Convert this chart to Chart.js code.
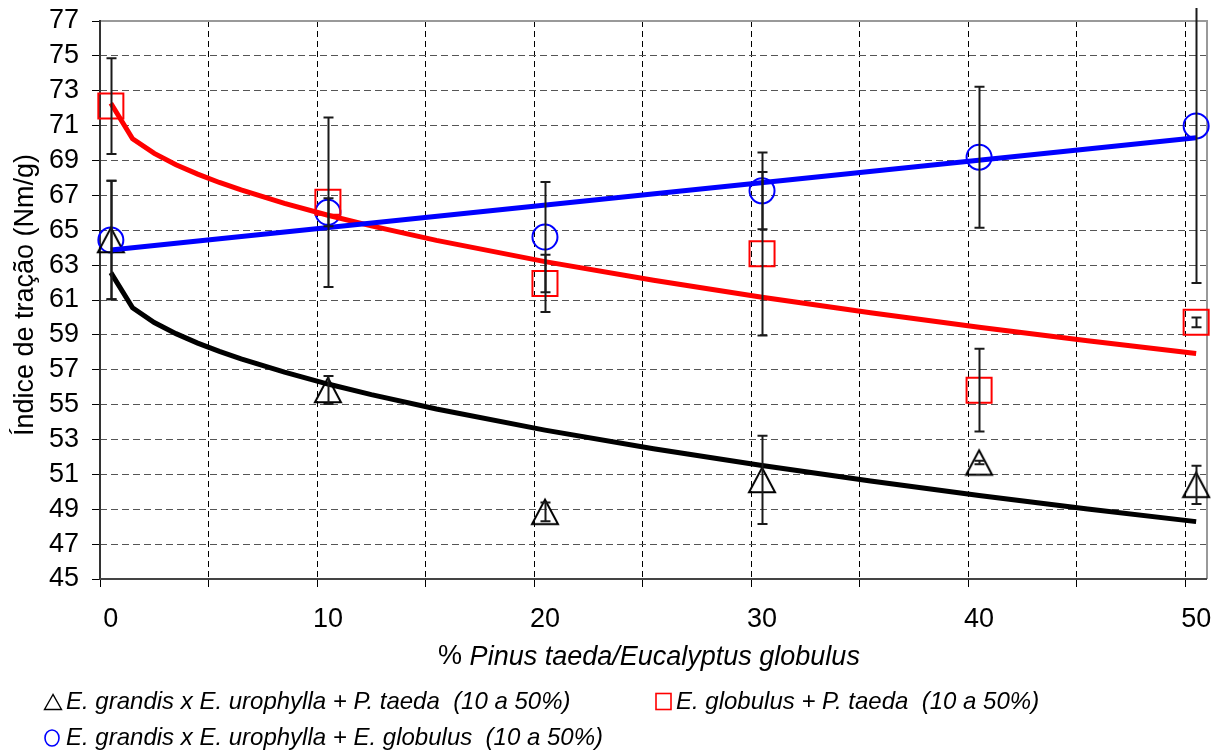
<!DOCTYPE html>
<html>
<head>
<meta charset="utf-8">
<script src="https://cdn.jsdelivr.net/npm/chart.js@4.4.1/dist/chart.umd.min.js"></script>
<style>
  body { margin: 0; background: #fff; }
  #wrap { position: relative; width: 1220px; height: 751px; font-family: "Liberation Sans", Arial, sans-serif; }
  #c { position: absolute; left: 0; top: 0; }
  .leg { position: absolute; font-style: italic; font-size: 24px; line-height: 24px; color: #000; white-space: pre; }
  .leg svg { position: absolute; }
</style>
</head>
<body>
<div id="wrap">
  <canvas id="c" width="1220" height="751"></canvas>
  <div class="leg" style="left:43px;top:689px;">
    <svg width="20" height="18" style="left:0;top:4px"><polygon points="10,1.5 1.5,16.5 18.5,16.5" fill="none" stroke="#000" stroke-width="1.4"/></svg><span style="position:absolute;left:23px;top:0">E. grandis x E. urophylla + P. taeda  (10 a 50%)</span>
  </div>
  <div class="leg" style="left:655px;top:689px;">
    <svg width="18" height="20" style="left:0;top:3px"><rect x="1" y="1.5" width="15" height="16" fill="none" stroke="#ff0000" stroke-width="1.6"/></svg><span style="position:absolute;left:21px;top:0">E. globulus + P. taeda  (10 a 50%)</span>
  </div>
  <div class="leg" style="left:43px;top:725px;">
    <svg width="20" height="20" style="left:0;top:3px"><ellipse cx="9" cy="10" rx="7" ry="8" fill="none" stroke="#0000ff" stroke-width="1.6"/></svg><span style="position:absolute;left:23px;top:0">E. grandis x E. urophylla + E. globulus  (10 a 50%)</span>
  </div>
</div>
<script>
// % of Pinus taeda / Eucalyptus globulus in the blend
const pctBlend = [0, 10, 20, 30, 40, 50];

// Tensile index (Nm/g): means and standard deviations
const grandisTaeda      = [64.44, 55.84, 48.85, 50.68, 51.68, 50.40];
const grandisTaedaSd    = [3.40, 0.80, 0.54, 2.53, 0.10, 1.10];
const globulusTaeda     = [72.12, 66.60, 61.95, 63.65, 55.83, 59.72];
const globulusTaedaSd   = [2.75, 4.86, 1.64, 4.69, 2.37, 0.28];
const grandisGlobulus   = [64.44, 66.03, 64.61, 67.26, 69.19, 70.98];
const grandisGlobulusSd = [3.40, 0.80, 3.16, 2.20, 4.04, 9.00];

// Trend lines
const trendX = [0, 1, 2, 3, 4, 5, 6, 8, 10, 12, 15, 20, 25, 30, 35, 40, 45, 50];
const trendGrandisTaeda = [62.57, 60.55, 59.71, 59.07, 58.53, 58.05, 57.62, 56.86, 56.18, 55.57, 54.75, 53.54, 52.47, 51.51, 50.62, 49.79, 49.02, 48.29];
const trendGlobulusTaeda = [72.28, 70.25, 69.41, 68.76, 68.22, 67.74, 67.31, 66.54, 65.86, 65.25, 64.42, 63.20, 62.13, 61.16, 60.27, 59.44, 58.66, 57.93];
const trendLinearX = [0, 50];
const trendGrandisGlobulus = [63.87, 70.31];

// Axis ticks
const xLabels = [0, 10, 20, 30, 40, 50];
const yTicks = [45, 47, 49, 51, 53, 55, 57, 59, 61, 63, 65, 67, 69, 71, 73, 75, 77];

const FONT = '"Liberation Sans", Arial, sans-serif';
const pts = (xs, ys) => xs.map((x, i) => ({ x: x, y: ys[i] }));

// open triangle marker, centred in its box
function triangleMarker() {
  const c = document.createElement('canvas');
  c.width = 30; c.height = 30;
  const g = c.getContext('2d');
  g.strokeStyle = '#000'; g.lineWidth = 2; g.lineJoin = 'miter';
  g.beginPath();
  g.moveTo(15, 2.8); g.lineTo(28, 27.2); g.lineTo(2, 27.2); g.closePath();
  g.stroke();
  return c;
}

const X_MIN = -0.5, X_MAX = 50.5;
const isGridValue = v => Math.abs(((v + 0.5) % 5 + 5) % 5) < 1e-6;

const errorSeries = [
  { means: grandisTaeda, sd: grandisTaedaSd },
  { means: globulusTaeda, sd: globulusTaedaSd },
  { means: grandisGlobulus, sd: grandisGlobulusSd }
];

const frameAndErrors = {
  id: 'frameAndErrors',
  beforeDatasetsDraw(chart) {
    const { ctx, chartArea: a } = chart;
    ctx.save();
    ctx.lineWidth = 2;
    ctx.strokeStyle = '#999';
    ctx.beginPath();
    ctx.moveTo(a.left, a.top); ctx.lineTo(a.right, a.top); ctx.lineTo(a.right, a.bottom);
    ctx.stroke();
    ctx.strokeStyle = '#333';
    ctx.beginPath();
    ctx.moveTo(a.left, a.top - 1); ctx.lineTo(a.left, a.bottom + 1);
    ctx.stroke();
    ctx.strokeStyle = '#444';
    ctx.beginPath();
    ctx.moveTo(a.left, a.bottom); ctx.lineTo(a.right, a.bottom);
    ctx.stroke();
    ctx.restore();
  },
  afterDatasetsDraw(chart) {
    const { ctx, scales: { x, y } } = chart;
    ctx.save();
    ctx.strokeStyle = '#1a1a1a';
    ctx.lineWidth = 2;
    errorSeries.forEach(s => {
      pctBlend.forEach((p, i) => {
        const px = Math.round(x.getPixelForValue(p)) + 0.5;
        let top = y.getPixelForValue(s.means[i] + s.sd[i]);
        const bot = y.getPixelForValue(s.means[i] - s.sd[i]);
        const clipped = top < 8;
        if (clipped) top = 8;
        ctx.beginPath();
        ctx.moveTo(px, top); ctx.lineTo(px, bot);
        if (!clipped) { ctx.moveTo(px - 5, top); ctx.lineTo(px + 5, top); }
        ctx.moveTo(px - 5, bot); ctx.lineTo(px + 5, bot);
        ctx.stroke();
      });
    });
    ctx.restore();
  },
  afterDraw(chart) {
    const ctx = chart.ctx;
    ctx.save();
    ctx.fillStyle = '#000';
    // x-axis title: "% " upright, species names in italics
    const a = '% ', b = 'Pinus taeda/Eucalyptus globulus';
    ctx.font = '27px ' + FONT;
    const wa = ctx.measureText(a).width;
    ctx.font = 'italic 27px ' + FONT;
    const wb = ctx.measureText(b).width;
    const x0 = 649 - (wa + wb) / 2;
    ctx.textBaseline = 'middle';
    ctx.textAlign = 'left';
    ctx.font = '27px ' + FONT;
    ctx.fillText(a, x0, 657);
    ctx.font = 'italic 27px ' + FONT;
    ctx.fillText(b, x0 + wa, 657);
    // y-axis title
    ctx.font = '27px ' + FONT;
    ctx.translate(33, 295);
    ctx.rotate(-Math.PI / 2);
    ctx.textAlign = 'center';
    ctx.textBaseline = 'alphabetic';
    ctx.fillText('Índice de tração (Nm/g)', 0, 0);
    ctx.restore();
  }
};

new Chart(document.getElementById('c'), {
  type: 'scatter',
  data: {
    datasets: [
      { label: 'trendGG', type: 'line', data: pts(trendLinearX, trendGrandisGlobulus), borderColor: '#0000ff', borderWidth: 5, pointRadius: 0, tension: 0, order: 1 },
      { label: 'trendGlT', type: 'line', data: pts(trendX, trendGlobulusTaeda), borderColor: '#ff0000', borderWidth: 5, pointRadius: 0, tension: 0, order: 2 },
      { label: 'trendGT', type: 'line', data: pts(trendX, trendGrandisTaeda), borderColor: '#000000', borderWidth: 5, pointRadius: 0, tension: 0, order: 3 },
      { label: 'E. grandis x E. urophylla + P. taeda  (10 a 50%)', data: pts(pctBlend, grandisTaeda), pointStyle: triangleMarker(), pointRadius: 15, clip: false, order: 4 },
      { label: 'E. globulus + P. taeda  (10 a 50%)', data: pts(pctBlend, globulusTaeda), pointStyle: 'rect', pointRadius: 17.7, borderColor: '#ff0000', backgroundColor: 'rgba(0,0,0,0)', borderWidth: 2, clip: false, order: 5 },
      { label: 'E. grandis x E. urophylla + E. globulus  (10 a 50%)', data: pts(pctBlend, grandisGlobulus), pointStyle: 'circle', pointRadius: 12.5, borderColor: '#0000ff', backgroundColor: 'rgba(0,0,0,0)', borderWidth: 2, clip: false, order: 6 }
    ]
  },
  options: {
    responsive: false,
    animation: false,
    devicePixelRatio: 1,
    layout: { autoPadding: false, padding: { left: 0, top: 21, right: 13, bottom: 0 } },
    plugins: { legend: { display: false }, tooltip: { enabled: false } },
    elements: { point: { hoverRadius: 0 } },
    scales: {
      x: {
        type: 'linear',
        min: X_MIN, max: X_MAX,
        afterBuildTicks(scale) {
          // grid ticks on category boundaries, labelled ticks on the data columns,
          // and an empty tick at the right end of the axis
          const t = [];
          for (let k = 0; k <= 10; k++) t.push({ value: X_MIN + 5 * k });
          xLabels.forEach(v => t.push({ value: v }));
          t.push({ value: X_MAX });
          t.sort((p, q) => p.value - q.value);
          scale.ticks = t;
        },
        afterFit(scale) { scale.height = 172; },
        ticks: {
          autoSkip: false, maxRotation: 0, padding: 13,
          color: '#000', font: { family: FONT, size: 27, lineHeight: 1.42 },
          callback: v => (xLabels.includes(v) ? String(v) : '')
        },
        grid: {
          tickLength: 8,
          lineWidth: 1,
          color: c => (c.tick && isGridValue(c.tick.value) && c.tick.value > 0 ? '#000' : 'rgba(0,0,0,0)'),
          tickColor: c => (c.tick && isGridValue(c.tick.value) ? '#000' : 'rgba(0,0,0,0)')
        },
        border: { display: false, dash: [6, 4] }
      },
      y: {
        min: 45, max: 77,
        afterBuildTicks(scale) { scale.ticks = yTicks.map(v => ({ value: v })); },
        afterFit(scale) { scale.width = 100; scale.paddingTop = 0; scale.paddingBottom = 0; },
        ticks: { autoSkip: false, padding: 13, color: '#000', font: { family: FONT, size: 27 } },
        grid: {
          tickLength: 8,
          lineWidth: 1,
          color: c => (c.tick && (c.tick.value === 45 || c.tick.value === 77) ? 'rgba(0,0,0,0)' : '#555'),
          tickColor: '#000'
        },
        border: { display: false, dash: [7, 4] }
      }
    }
  },
  plugins: [frameAndErrors]
});
</script>
</body>
</html>
